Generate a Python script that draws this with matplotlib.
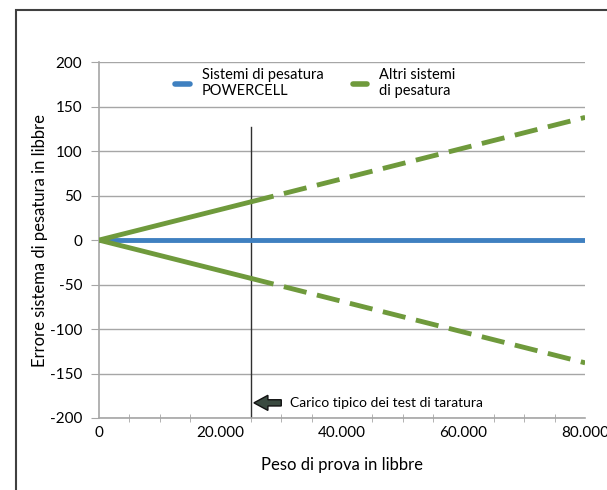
import matplotlib.pyplot as plt
from matplotlib.lines import Line2D
from matplotlib.patches import Rectangle, FancyArrow

plt.rcParams['font.family'] = ['Lato', 'DejaVu Sans']
plt.rcParams['axes.unicode_minus'] = False

# data
carico = [0, 25000]
carico_esteso = [25000, 80000]
powercell_x = [0, 80000]
powercell_y = [0, 0]
altri_sup = [0, 43]
altri_sup_est = [43, 138]
altri_inf = [0, -43]
altri_inf_est = [-43, -138]
taratura_x = 25000
taratura_top = 127

blu = '#3f80c0'
verde = '#6f9a3c'
grigio = '#a6a6a6'

fig = plt.figure(figsize=(6.07, 4.90), dpi=100)
ax = fig.add_axes([0.163, 0.147, 0.801, 0.726])

# bordo della figura
fig.patches.append(Rectangle((16 / 607, -0.1), 1.2, 1.1 - 10 / 490,
                             transform=fig.transFigure, fill=False,
                             edgecolor='#404040', linewidth=1.5))

ax.set_xlim(0, 80000)
ax.set_ylim(-200, 200)
ax.set_yticks(range(-200, 201, 50))
ax.set_xticks([0, 20000, 40000, 60000, 80000])
ax.set_xticklabels(['0', '20.000', '40.000', '60.000', '80.000'])
ax.set_xticks(range(0, 80001, 5000), minor=True)
ax.yaxis.grid(True, color=grigio, linewidth=1)
ax.set_axisbelow(True)

for s in ['top', 'right']:
    ax.spines[s].set_visible(False)
ax.spines['left'].set_color(grigio)
ax.spines['bottom'].set_color(grigio)
ax.spines['left'].set_linewidth(1.2)
ax.spines['bottom'].set_linewidth(1.2)
ax.tick_params(axis='y', length=6, color=grigio, labelsize=11, pad=6)
ax.tick_params(axis='x', which='major', length=0, labelsize=11, pad=6)
ax.tick_params(axis='x', which='minor', length=6, direction='inout', color=grigio)

# linea verticale di taratura
ax.plot([taratura_x, taratura_x], [-200, taratura_top], color='#303030', linewidth=1, zorder=2)

ax.plot(powercell_x, powercell_y, color=blu, linewidth=3.5, zorder=3)
ax.plot(carico, altri_sup, color=verde, linewidth=3.5, solid_capstyle='round', zorder=4)
ax.plot(carico, altri_inf, color=verde, linewidth=3.5, solid_capstyle='round', zorder=4)
ax.plot(carico_esteso, altri_sup_est, color=verde, linewidth=3.5, dashes=(4.8, 2.2), zorder=4)
ax.plot(carico_esteso, altri_inf_est, color=verde, linewidth=3.5, dashes=(4.8, 2.2), zorder=4)

# freccia e testo
ax.add_patch(FancyArrow(30000, -183, -4500, 0, width=7, head_width=17, head_length=2300,
                        length_includes_head=True, facecolor='#3a4a40', edgecolor='#111111',
                        linewidth=1, zorder=5))
ax.text(31500, -183, 'Carico tipico dei test di taratura', fontsize=10, va='center', ha='left')

ax.set_xlabel('Peso di prova in libbre', fontsize=12, labelpad=12)
ax.set_ylabel('Errore sistema di pesatura in libbre', fontsize=12)
ax.yaxis.set_label_coords(-0.104, 0.5)

handles = [Line2D([0], [0], color=blu, linewidth=4, solid_capstyle='round'),
           Line2D([0], [0], color=verde, linewidth=4, solid_capstyle='round')]
ax.legend(handles, ['Sistemi di pesatura\nPOWERCELL', 'Altri sistemi\ndi pesatura'],
          loc='upper center', bbox_to_anchor=(0.445, 1.02), ncol=2, frameon=False,
          fontsize=10.5, handlelength=1.0, columnspacing=2.0, handletextpad=0.8,
          labelspacing=0.2)

fig.savefig('out.png', dpi=100)
